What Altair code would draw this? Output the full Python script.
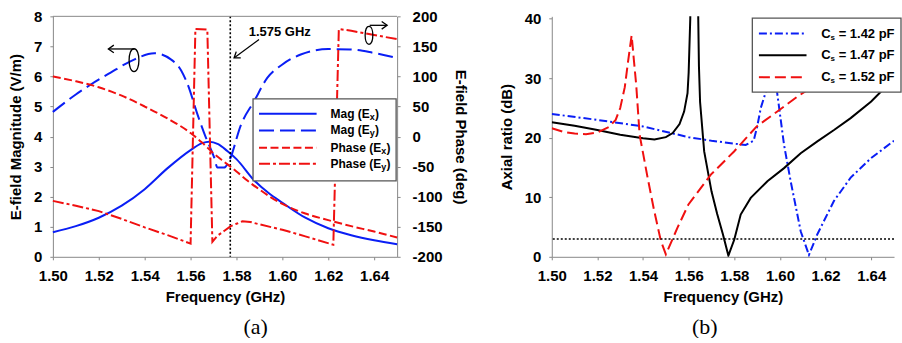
import altair as alt
import pandas as pd

FONT = "Liberation Sans"
SERIF = "Liberation Serif"
BLUE = "#0a1ef5"
RED = "#f01010"

# ---------------- panel (a) data ----------------
mag_ex_f = [1.500, 1.510, 1.520, 1.530, 1.540, 1.550, 1.560, 1.565, 1.568, 1.572, 1.576, 1.580, 1.588, 1.594, 1.600, 1.610, 1.620, 1.630, 1.640, 1.650]
mag_ex_v = [0.82, 1.02, 1.30, 1.70, 2.25, 2.95, 3.55, 3.78, 3.83, 3.75, 3.52, 3.25, 2.52, 2.12, 1.80, 1.30, 0.95, 0.72, 0.55, 0.42]

mag_ey_f = [1.500, 1.510, 1.5167, 1.525, 1.534, 1.5442, 1.5514, 1.5559, 1.5587, 1.563, 1.5665, 1.5703, 1.5717, 1.5746, 1.5768, 1.582, 1.5877, 1.5935, 1.600, 1.608, 1.620, 1.6297, 1.640, 1.650]
mag_ey_v = [4.82, 5.40, 5.74, 6.12, 6.51, 6.77, 6.57, 6.20, 5.74, 4.74, 4.00, 3.30, 2.97, 2.97, 3.19, 4.40, 5.18, 5.96, 6.40, 6.73, 6.91, 6.90, 6.78, 6.61]

ph_ex_f = [1.50, 1.51, 1.52, 1.53, 1.54, 1.55, 1.56, 1.565, 1.57, 1.575, 1.58, 1.585, 1.59, 1.595, 1.60, 1.61, 1.62, 1.63, 1.64, 1.65]
ph_ex_v = [100, 92, 82, 68, 50, 30, 6, -10, -28, -43, -58, -74, -88, -101, -112, -128, -139, -149, -158, -168]

ph_ey_f = [1.500, 1.510, 1.520, 1.530, 1.540, 1.550, 1.5600, 1.5621, 1.5673, 1.5695, 1.5717, 1.5746, 1.5775, 1.5800, 1.5826, 1.5860, 1.5900, 1.6000, 1.6100, 1.6222, 1.6246, 1.6300, 1.6400, 1.6500]
ph_ey_v = [-107, -115, -124, -137, -151, -164, -178, 179, 178, -175, -165, -157, -149, -145, -141, -142, -146, -155, -166, -180, 179, 176, 169, 162]

gps_freq = [1.5773]

# ---------------- panel (b) data ----------------
ar142_f = [1.500, 1.520, 1.540, 1.560, 1.570, 1.580, 1.585, 1.5885, 1.5901, 1.5916, 1.5938, 1.5963, 1.5988, 1.6018, 1.6047, 1.6091, 1.6127, 1.6164, 1.6237, 1.631, 1.640, 1.650]
ar142_v = [24.0, 23.0, 21.9, 20.1, 19.5, 19.0, 18.8, 19.5, 22.0, 25.0, 27.7, 36.0, 27.5, 18.8, 12.7, 4.3, 0.3, 3.8, 9.4, 13.3, 16.6, 19.5]

ar147_f = [1.500, 1.510, 1.520, 1.530, 1.540, 1.545, 1.550, 1.553, 1.556, 1.558, 1.5595, 1.5600, 1.5607, 1.5612, 1.5638, 1.5642, 1.5645, 1.5650, 1.5668, 1.5700, 1.5725, 1.5750, 1.5774, 1.5800, 1.5828, 1.5872, 1.5945, 1.6018, 1.6091, 1.6164, 1.6237, 1.6310, 1.6400, 1.6441, 1.6500]
ar147_v = [22.6, 22.0, 21.3, 20.5, 19.9, 19.7, 20.1, 20.8, 22.3, 24.4, 27.5, 31.0, 40.0, 60.0, 60.0, 40.0, 32.0, 26.0, 17.7, 11.0, 7.2, 3.8, 0.2, 2.9, 7.1, 9.9, 12.7, 14.9, 17.4, 19.4, 21.3, 23.3, 26.1, 27.7, 29.5]

ar152_f = [1.500, 1.505, 1.510, 1.515, 1.520, 1.525, 1.528, 1.530, 1.532, 1.5335, 1.535, 1.536, 1.537, 1.5385, 1.542, 1.5449, 1.5478, 1.550, 1.5551, 1.5599, 1.5697, 1.5799, 1.5898, 1.5999, 1.6076, 1.620, 1.630, 1.640, 1.650]
ar152_v = [21.6, 21.0, 20.7, 20.6, 20.9, 21.8, 23.0, 25.0, 28.5, 33.0, 37.2, 33.0, 28.9, 20.5, 13.3, 7.7, 2.7, 0.4, 4.9, 8.8, 13.8, 17.7, 21.9, 24.7, 26.9, 30.0, 32.5, 35.0, 37.0]

ar_limit = [3]

x_ticks = [1.50, 1.52, 1.54, 1.56, 1.58, 1.60, 1.62, 1.64]
mag_ticks = [0, 1, 2, 3, 4, 5, 6, 7, 8]
phase_ticks = [-200, -150, -100, -50, 0, 50, 100, 150, 200]
ar_ticks = [0, 10, 20, 30, 40]

W1, H1 = 345, 241
W2, H2 = 343, 241

DUMMY = pd.DataFrame({"d": [0]})
XS = alt.Scale(domain=[1.5, 1.65], nice=False, zero=False)


def x_axis():
    return alt.Axis(values=x_ticks, format=".2f", title="Frequency (GHz)",
                    labelPadding=9, titlePadding=6, labelFlush=False)


MAG_S = alt.Scale(domain=[0, 8], nice=False, zero=False)
PH_S = alt.Scale(domain=[-200, 200], nice=False, zero=False)
AR_S = alt.Scale(domain=[0, 40.4], nice=False, zero=False)

mag_axis = alt.Axis(values=mag_ticks, title="E-field Magnitude (V/m)", orient="left",
                    labelPadding=8, titlePadding=10, labelFlush=False)
ph_axis = alt.Axis(values=phase_ticks, title="E-field Phase (deg)", orient="right",
                   labelPadding=12, titlePadding=10, labelExpr="'' + datum.value", labelFlush=False)
ar_axis = alt.Axis(values=ar_ticks, title="Axial ratio (dB)", orient="left",
                   labelPadding=8, titlePadding=10, labelFlush=False)


def curve(f, v, color, dash, interp, ys, yaxis, clip=False, width=2):
    kw = dict(color=color, strokeWidth=width, interpolate=interp, clip=clip)
    if dash:
        kw["strokeDash"] = dash
    df = pd.DataFrame({"f": f, "v": v})
    return alt.Chart(df).mark_line(**kw).encode(
        x=alt.X("f:Q", scale=XS, axis=x_axis()),
        y=alt.Y("v:Q", scale=ys, axis=yaxis),
    )


def vtext(text, x, y, size, weight="bold", align="left", font=FONT):
    return alt.Chart(DUMMY).mark_text(text=text, font=font, fontSize=size, fontWeight=weight,
                                      align=align, baseline="middle", color="black").encode(
        x=alt.value(x), y=alt.value(y))


def vrule(x1, y1, x2, y2, color="black", width=2, dash=None, opacity=1):
    kw = dict(color=color, strokeWidth=width, opacity=opacity)
    if dash:
        kw["strokeDash"] = dash
    return alt.Chart(DUMMY).mark_rule(**kw).encode(
        x=alt.value(x1), y=alt.value(y1), x2=alt.value(x2), y2=alt.value(y2))


def vbox(x1, y1, x2, y2):
    return alt.Chart(DUMMY).mark_rect(fill="white", stroke="#555555", strokeWidth=1.3).encode(
        x=alt.value(x1), y=alt.value(y1), x2=alt.value(x2), y2=alt.value(y2))


def vsymbol(path, x, y, size, angle=0, width=1.3):
    return alt.Chart(DUMMY).mark_point(shape=path, size=size, filled=False, stroke="black",
                                       strokeWidth=width, opacity=1, angle=angle).encode(
        x=alt.value(x), y=alt.value(y))


ELLIPSE = "M0,-1C0.57,-1 0.57,1 0,1C-0.57,1 -0.57,-1 0,-1Z"
CHEV_L = "M1,-0.7L0,0L1,0.7"
CHEV_R = "M-1,-0.7L0,0L-1,0.7"

# ---------------- panel (a) ----------------
mag_ex = curve(mag_ex_f, mag_ex_v, BLUE, None, "monotone", MAG_S, mag_axis)
mag_ey = curve(mag_ey_f, mag_ey_v, BLUE, [15, 6], "monotone", MAG_S, mag_axis)
gps_line = alt.Chart(pd.DataFrame({"f": gps_freq})).mark_rule(
    color="black", strokeDash=[2, 2], strokeWidth=1.6).encode(
    x=alt.X("f:Q", scale=XS, axis=x_axis()))
mag_group = alt.layer(mag_ex, mag_ey, gps_line)

ph_ex = curve(ph_ex_f, ph_ex_v, RED, [8, 3.5], "monotone", PH_S, ph_axis)
ph_ey = curve(ph_ey_f, ph_ey_v, RED, [11, 3, 3, 3], "linear", PH_S, ph_axis)
ph_group = alt.layer(ph_ex, ph_ey)

deco_a = [
    vrule(0, 0, W1, 0, color="#888888", width=1),
    vtext("1.575 GHz", 196.3, 15.7, 13),
    vrule(206.6, 23.3, 182.5, 41.0, width=1.2),
    vsymbol(CHEV_L, 181.6, 41.7, 120, angle=324),
    vsymbol(ELLIPSE, 81.3, 44, 529),
    vrule(81.6, 32.7, 56.0, 32.7, width=1.3),
    vsymbol(CHEV_L, 55.6, 32.7, 120),
    vsymbol(ELLIPSE, 316.8, 19, 324),
    vrule(317.5, 9, 334.5, 9, width=1.3),
    vsymbol(CHEV_R, 335.0, 9, 120),
    vbox(200.6, 82.7, 344, 165),
]
leg_a = [("Mag (E", "x", BLUE, None, 39.3), ("Mag (E", "y", BLUE, [15, 6], 39.3),
         ("Phase (E", "x", RED, [8, 3.5], 50.7), ("Phase (E", "y", RED, [11, 3, 3, 3], 50.7)]
rows_a = [97.7, 114.3, 131.7, 147.7]
for (main, sub, col, dash, w), ry in zip(leg_a, rows_a):
    deco_a.append(vrule(206.6, ry, 264.3, ry, color=col, width=2, dash=dash))
    deco_a.append(vtext(main, 278.3, ry, 12))
    deco_a.append(vtext(sub, 278.3 + w, ry + 3, 9))
    deco_a.append(vtext(")", 278.3 + w + 5.3, ry, 12))
deco_a.append(vtext("(a)", 203.3, 311, 22, weight="normal", align="center", font=SERIF))

left = alt.layer(mag_group, ph_group, *deco_a).resolve_scale(y="independent").properties(
    width=W1, height=H1)

# ---------------- panel (b) ----------------
c142 = curve(ar142_f, ar142_v, BLUE, [8, 3, 2, 3], "linear", AR_S, ar_axis, clip=True)
c147 = curve(ar147_f, ar147_v, "black", None, "linear", AR_S, ar_axis, clip=True)
c152 = curve(ar152_f, ar152_v, RED, [11, 5], "linear", AR_S, ar_axis, clip=True)
limit = alt.Chart(pd.DataFrame({"v": ar_limit})).mark_rule(
    color="black", strokeDash=[2, 2], strokeWidth=1.6).encode(
    y=alt.Y("v:Q", scale=AR_S, axis=ar_axis))

deco_b = [
    vrule(0, -8, 5, -8, opacity=0),
    vbox(201, 1.7, 350, 76),
]
leg_b = [("1.42", BLUE, [8, 3, 2, 3]), ("1.47", "black", None), ("1.52", RED, [11, 5])]
rows_b = [17.3, 39, 61]
for (val, col, dash), ry in zip(leg_b, rows_b):
    deco_b.append(vrule(207.6, ry, 255.3, ry, color=col, width=2, dash=dash))
    deco_b.append(vtext("C", 270, ry, 13))
    deco_b.append(vtext("s", 279.4, ry + 4, 8))
    deco_b.append(vtext("= " + val + " pF", 287.5, ry, 13))
deco_b.append(vtext("(b)", 153.3, 311, 22, weight="normal", align="center", font=SERIF))

right = alt.layer(c142, c147, c152, limit, *deco_b).properties(width=W2, height=H2)

chart = alt.hconcat(left, right, spacing=31).properties(
    padding={"left": 8, "top": 8, "right": 0, "bottom": 0}
).configure_view(stroke=None).configure_axis(
    labelFont=FONT, labelFontSize=15, labelFontWeight="bold", labelColor="black",
    titleFont=FONT, titleFontSize=15, titleFontWeight="bold", titleColor="black",
    tickSize=3, tickColor="#888888", domainColor="#888888", grid=False,
)

chart.save("out.html", embed_options={"renderer": "svg", "actions": False})
